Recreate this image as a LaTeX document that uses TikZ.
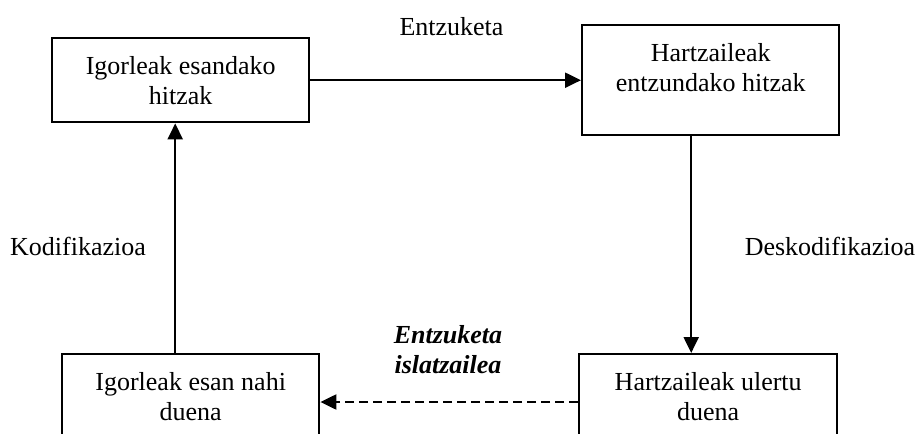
\documentclass[tikz,border=0pt]{standalone}
\usepackage{fontspec}
\setmainfont{Liberation Serif}
\usetikzlibrary{arrows.meta}
\newcommand\boxtxt[3]{\begin{minipage}[t][#2pt][t]{#1pt}\centering\rule{0pt}{36pt}#3\end{minipage}}
\begin{document}
\begin{tikzpicture}[x=1pt,y=-1pt,
  box/.style={draw, line width=2.4pt, inner sep=0pt, anchor=north west, font=\fontsize{26}{30.5}\selectfont},
  lbl/.style={inner sep=0pt, anchor=base, font=\fontsize{26}{30.5}\selectfont},
  arr/.style={line width=2.2pt, -{Triangle[length=16pt,width=15pt]}}]
\clip (0,0) rectangle (922,434);
\node[box] (A) at (51,37) {\boxtxt{257}{84}{Igorleak esandako\\hitzak}};
\node[box] (B) at (581,24) {\boxtxt{257}{110}{Hartzaileak\\entzundako hitzak}};
\node[box] (C) at (61,353) {\boxtxt{257}{110}{Igorleak esan nahi\\duena}};
\node[box] (D) at (578,353) {\boxtxt{258}{110}{Hartzaileak ulertu\\duena}};
\node[lbl] (l1) at (451.5,35) {Entzuketa};
\node[lbl] (l2) at (78,255) {Kodifikazioa};
\node[lbl] (l3) at (830,255) {Deskodifikazioa};
\node[lbl, align=center, font=\fontsize{26}{30}\selectfont\bfseries\itshape] (l4) at (448,373) {Entzuketa\\islatzailea};
\draw[arr] (A.east) -- (A.east -| B.west);
\draw[arr] ([xshift=-19.5pt]B.south) -- ([xshift=-19.5pt]B.south |- D.north);
\draw[arr] ([xshift=-15.5pt]C.north) -- ([xshift=-15.5pt]C.north |- A.south);
\draw[arr, dash pattern=on 9pt off 5pt] ([yshift=-49pt]D.north west) -- ([yshift=-49pt]D.north west -| C.east);
\end{tikzpicture}
\end{document}
